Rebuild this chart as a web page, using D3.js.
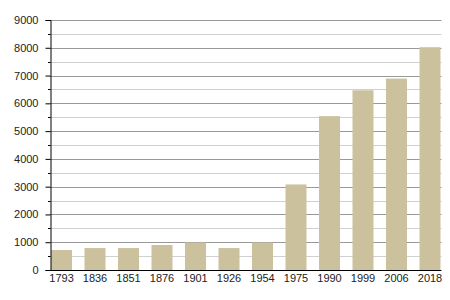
<!DOCTYPE html>
<html><head><meta charset="utf-8">
<script src="https://cdn.jsdelivr.net/npm/d3@7"></script>
<style>body{margin:0;background:#fff}svg{display:block}</style>
</head><body>
<svg id="c" width="450" height="300"></svg>
<script>
const years = ["1793","1836","1851","1876","1901","1926","1954","1975","1990","1999","2006","2018"];
const population = [720, 790, 790, 900, 990, 790, 990, 3080, 5540, 6470, 6890, 8020];
const yTicks = [0,1000,2000,3000,4000,5000,6000,7000,8000,9000];
const yMinor = [500,1500,2500,3500,4500,5500,6500,7500,8500];

(function(){
const svg = d3.select("#c");
const mLeft = 50, mRight = 441.5, mTop = 20, mBottom = 270;
const x = d3.scaleBand().domain(years).range([mLeft, mRight]).paddingInner(0.373).paddingOuter(0.03);
const y = d3.scaleLinear().domain([0, 9000]).range([mBottom, mTop]);
const py = d => Math.round(y(d)) + 0.5;

// grid
svg.append("g").selectAll("line").data(yMinor).join("line")
  .attr("x1", mLeft).attr("x2", mRight).attr("y1", py).attr("y2", py)
  .attr("stroke", "#d0d0d0").attr("stroke-width", 1);
svg.append("g").selectAll("line").data(yTicks.slice(1)).join("line")
  .attr("x1", mLeft).attr("x2", mRight).attr("y1", py).attr("y2", py)
  .attr("stroke", "#999").attr("stroke-width", 1);

// bars
svg.append("g").selectAll("rect").data(years).join("rect")
  .attr("x", d => x(d)).attr("width", x.bandwidth())
  .attr("y", (d,i) => y(population[i])).attr("height", (d,i) => mBottom - y(population[i]))
  .attr("fill", "#cbc29d");

// y axis
const ya = svg.append("g").attr("transform", `translate(${mLeft+0.5},0)`)
  .call(d3.axisLeft(y).tickValues(yTicks).tickFormat(d3.format("d")).tickSize(5).tickPadding(7));
ya.select(".domain").attr("stroke", "#000");
ya.selectAll(".tick line").attr("stroke", "#000");
ya.selectAll("text").attr("font-family", "Liberation Sans, Arial, sans-serif").attr("font-size", 11).attr("fill", "#222");
svg.append("g").selectAll("line").data(yMinor).join("line")
  .attr("x1", mLeft - 2).attr("x2", mLeft + 0.5).attr("y1", py).attr("y2", py)
  .attr("stroke", "#000");

// x axis
const xa = svg.append("g").attr("transform", `translate(0,${mBottom+0.5})`)
  .call(d3.axisBottom(x).tickSize(0).tickPadding(4));
xa.select(".domain").attr("stroke", "#000").attr("d", `M${mLeft},0H${mRight}`);
xa.selectAll("text").attr("font-family", "Liberation Sans, Arial, sans-serif").attr("font-size", 11).attr("fill", "#222");
})();
</script>
</body></html>
